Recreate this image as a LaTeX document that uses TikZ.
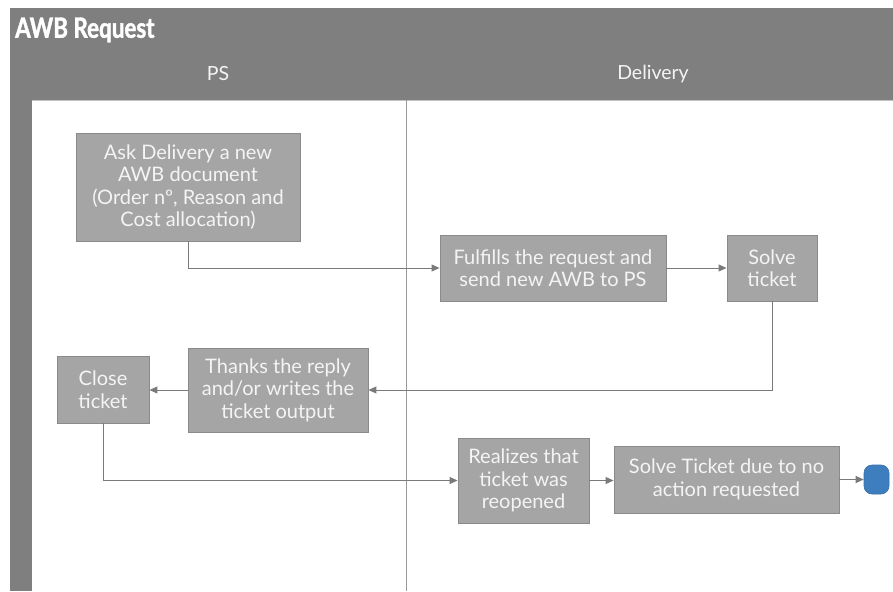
\documentclass[tikz,border=0pt]{standalone}
\usepackage{fontspec}
\setmainfont{Lato}
\newfontfamily\titlefont[FakeStretch=0.8,FakeBold=1.5]{Lato}
\usetikzlibrary{arrows.meta}

\definecolor{poolgray}{HTML}{7F7F7F}
\definecolor{boxfill}{HTML}{A5A5A5}
\definecolor{boxline}{HTML}{8A8A8A}
\definecolor{boxtext}{HTML}{F4F4F4}
\definecolor{flowline}{HTML}{7A7A7A}
\definecolor{lanerule}{HTML}{9A9A9A}
\definecolor{endfill}{HTML}{3F7EBE}
\definecolor{endline}{HTML}{386FA8}

\tikzset{
  taskbox/.style={draw=boxline, fill=boxfill, text=boxtext, align=center,
    inner sep=0pt, line width=0.9pt,
    font=\fontsize{20}{22.5}\selectfont},
  lanelabel/.style={text=boxtext, font=\fontsize{19.5}{21}\selectfont},
  flow/.style={draw=flowline, line width=1pt,
    -{Triangle[length=8pt,width=7pt]}},
  endevent/.style={draw=endline, fill=endfill, rounded corners=8pt,
    minimum width=25pt, minimum height=29pt, inner sep=0pt, line width=0.6pt}
}

\begin{document}
\begin{tikzpicture}[x=1pt,y=-1pt]
  \useasboundingbox (0,0) rectangle (893,591);
  \fill[white] (0,0) rectangle (893,591);

  % pool frame with header band and left band
  \fill[poolgray] (10,8) rectangle (893,591);
  \fill[white] (32,100) rectangle (893,591);
  \draw[lanerule!60, line width=0.8pt] (32,100) -- (893,100);
  \draw[lanerule, line width=1pt] (406,100) -- (406,591);

  % titles
  \node[anchor=west, text=white, inner sep=0pt,
        font=\titlefont\bfseries\fontsize{28}{30}\selectfont] (title) at (15,30) {AWB Request};
  \node[lanelabel] (laneps) at (218,74) {PS};
  \node[lanelabel] (lanedel) at (653,74) {Delivery};

  % tasks
  \node[taskbox, minimum width=224pt, minimum height=108pt] (ask) at (188,187)
    {Ask Delivery a new\\AWB document\\(Order nº, Reason and\\Cost allocation)};
  \node[taskbox, minimum width=226pt, minimum height=66pt] (fulfill) at (553,268)
    {Fulfills the request and\\send new AWB to PS};
  \node[taskbox, minimum width=90pt, minimum height=66pt] (solve) at (772,268)
    {Solve\\ticket};
  \node[taskbox, minimum width=180pt, minimum height=84pt] (thanks) at (278,390)
    {Thanks the reply\\and/or writes the\\ticket output};
  \node[taskbox, minimum width=92pt, minimum height=67pt] (close) at (103,389.5)
    {Close\\ticket};
  \node[taskbox, minimum width=131pt, minimum height=85pt] (realize) at (523.5,480.5)
    {Realizes that\\ticket was\\reopened};
  \node[taskbox, minimum width=225pt, minimum height=67pt] (noaction) at (726.5,479.5)
    {Solve Ticket due to no\\action requested};
  \node[endevent] (finish) at (876.5,479.5) {};

  % sequence flows
  \draw[flow] (ask.south) |- (fulfill.west);
  \draw[flow] (fulfill.east) -- (solve.west);
  \draw[flow] (solve.south) |- (thanks.east);
  \draw[flow] (thanks.west) -- (thanks.west -| close.east);
  \draw[flow] (close.south) |- (realize.west);
  \draw[flow] (realize.east) -- (realize.east -| noaction.west);
  \draw[flow] (noaction.east) -- (finish.west);
\end{tikzpicture}
\end{document}
